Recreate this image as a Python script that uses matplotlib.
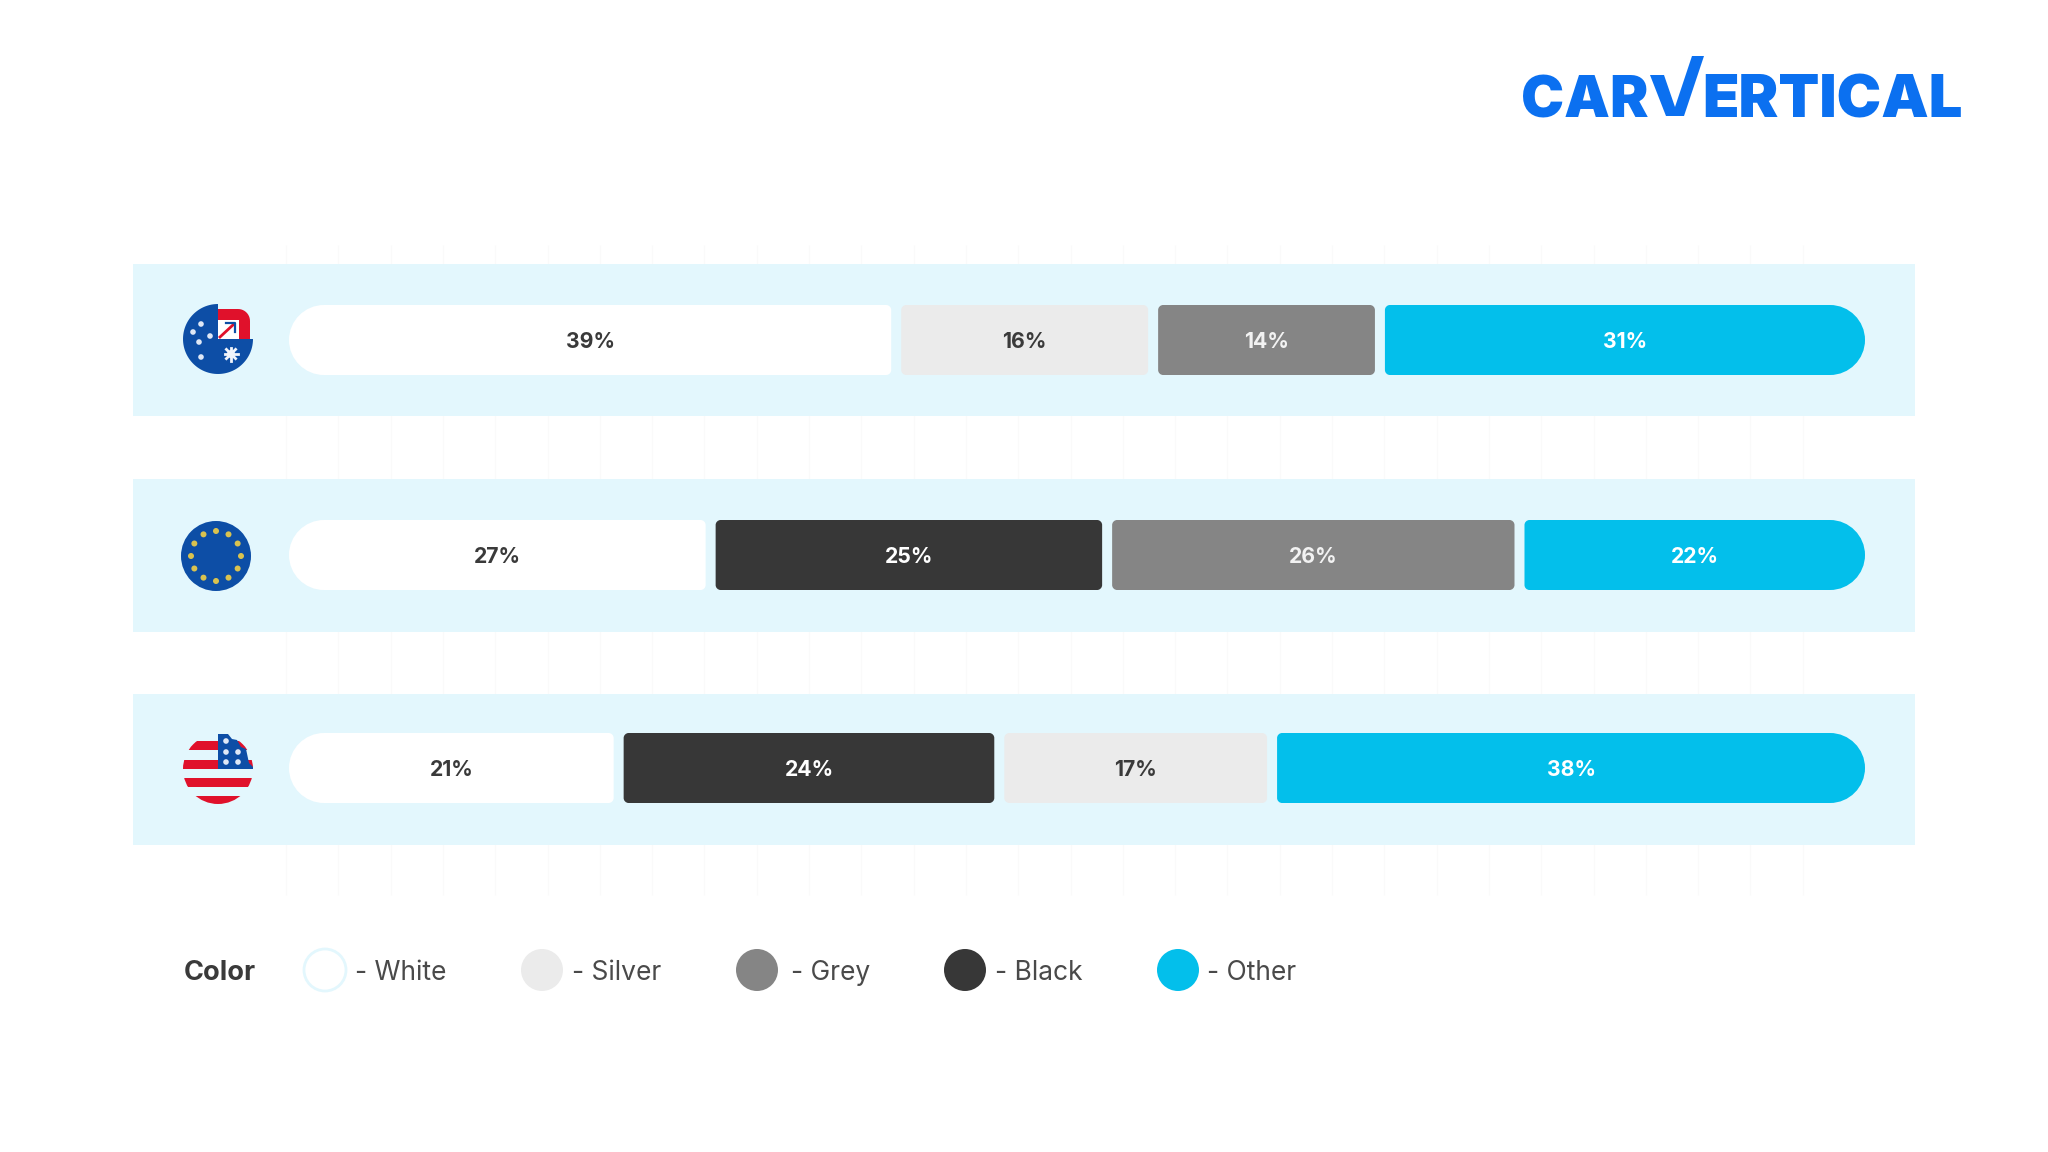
import numpy as np
import matplotlib
matplotlib.use("Agg")
import matplotlib.pyplot as plt
from matplotlib.path import Path
from matplotlib.patches import PathPatch, Circle, Polygon, Rectangle

plt.rcParams['font.family'] = ['Inter', 'DejaVu Sans']

# values, one list per region, in stacking order
# widths are a bit finer than the printed labels, labels are the rounded value
australia_cats = ["White", "Silver", "Grey", "Other"]
australia_vals = [38.6, 16.2, 14.3, 30.9]
europe_cats = ["White", "Black", "Grey", "Other"]
europe_vals = [26.9, 25.0, 26.0, 22.1]
usa_cats = ["White", "Black", "Silver", "Other"]
usa_vals = [21.1, 24.0, 17.2, 37.7]
legend_names = ["White", "Silver", "Grey", "Black", "Other"]

colors = {"White": "#ffffff", "Silver": "#ebebeb", "Grey": "#858585",
          "Black": "#373737", "Other": "#03bfeb"}
text_colors = {"White": "#3a3a3a", "Silver": "#3a3a3a", "Grey": "#f2f2f2",
               "Black": "#ffffff", "Other": "#ffffff"}
PANEL = "#e3f7fd"
LOGO = "#0b70f0"
NAVY = "#0d4ea6"
RED = "#e0112b"

W, H = 2048, 1152
fig = plt.figure(figsize=(W / 100, H / 100), dpi=100, facecolor="white")

# overlay in pixel units for the panels, flags, logo and legend
bg = fig.add_axes([0, 0, 1, 1])
bg.set_xlim(0, W)
bg.set_ylim(H, 0)
bg.axis("off")

# faint grid showing through between the panels
for x in np.arange(286, 1810, 52.3):
    bg.vlines(x, 245, 895, color="#fafafa", lw=1, zorder=0)

for top, bottom in [(264, 416), (479, 632), (694, 845)]:
    bg.add_patch(Rectangle((133, top), 1782, bottom - top, fc=PANEL, ec="none", zorder=1))

# bar axes: x in percent, y in pixels
BAR_L, BAR_R, GAP = 289, 1865, 10
px_per_pct = (BAR_R - BAR_L + GAP) / 100
bars = fig.add_axes([BAR_L / W, 0, (BAR_R + GAP - BAR_L) / W, 1])
bars.set_xlim(0, 100)
bars.set_ylim(H, 0)
bars.axis("off")
bars.patch.set_alpha(0)


def seg_path(x0, x1, y0, y1, rl, rr):
    # rounded box, radius in pixels, different on each side
    lx, rx = rl / px_per_pct, rr / px_per_pct
    k = 0.45
    verts = [(x0 + lx, y0), (x1 - rx, y0),
             (x1 - rx * k, y0), (x1, y0 + rr * k), (x1, y0 + rr),
             (x1, y1 - rr),
             (x1, y1 - rr * k), (x1 - rx * k, y1), (x1 - rx, y1),
             (x0 + lx, y1),
             (x0 + lx * k, y1), (x0, y1 - rl * k), (x0, y1 - rl),
             (x0, y0 + rl),
             (x0, y0 + rl * k), (x0 + lx * k, y0), (x0 + lx, y0),
             (x0 + lx, y0)]
    codes = [Path.MOVETO, Path.LINETO] + [Path.CURVE4] * 3 + [Path.LINETO] + [Path.CURVE4] * 3 + \
            [Path.LINETO] + [Path.CURVE4] * 3 + [Path.LINETO] + [Path.CURVE4] * 3 + [Path.CLOSEPOLY]
    return Path(verts, codes)


def draw_row(cats, vals, yc):
    left = 0
    y0, y1 = yc - 35, yc + 35
    gap = GAP / px_per_pct
    for i, (cat, val) in enumerate(zip(cats, vals)):
        rl = 35 if i == 0 else 5
        rr = 35 if i == len(vals) - 1 else 5
        x1 = left + val - gap
        bars.add_patch(PathPatch(seg_path(left, x1, y0, y1, rl, rr), fc=colors[cat], ec="none", zorder=3))
        bars.text((left + x1) / 2, yc, f"{val:.0f}%", ha="center", va="center_baseline", fontsize=15.3,
                  fontweight="bold", color=text_colors[cat], zorder=4)
        left += val


draw_row(australia_cats, australia_vals, 340)
draw_row(europe_cats, europe_vals, 555)
draw_row(usa_cats, usa_vals, 768)


def flag_au(cx, cy):
    theta = np.radians(np.linspace(90, 360, 80))
    pts = [(cx, cy)] + [(cx + 35 * np.cos(t), cy - 35 * np.sin(t)) for t in theta]
    bg.add_patch(Polygon(pts, fc=NAVY, ec="none", zorder=5))
    # red corner with the white square inside it
    arc = np.radians(np.linspace(90, 0, 12))
    corner = [(cx, cy - 30)] + [(cx + 20 + 12 * np.cos(t), cy - 18 - 12 * np.sin(t)) for t in arc] + \
             [(cx + 32, cy), (cx, cy)]
    bg.add_patch(Polygon(corner, fc=RED, ec="none", zorder=5))
    bg.add_patch(Rectangle((cx, cy - 19), 21, 19, fc="white", ec="none", zorder=6))
    bg.plot([cx + 2, cx + 16], [cy - 2, cy - 15], color=RED, lw=2, zorder=7)
    bg.plot([cx + 8, cx + 17, cx + 17], [cy - 16, cy - 16, cy - 7], color=NAVY, lw=1.6, zorder=7)
    for dx, dy in [(-17, -15), (-25, -7), (-8, -3), (-19, 3), (-17, 18)]:
        bg.add_patch(Circle((cx + dx, cy + dy), 2.8, fc="#dfe8f6", ec="none", zorder=6))
    for a in np.arange(0, 180, 45):
        ca, sa = np.cos(np.radians(a)) * 6.5, np.sin(np.radians(a)) * 6.5
        bg.plot([cx + 13 - ca, cx + 13 + ca], [cy + 15 - sa, cy + 15 + sa], color="#f2f5fb", lw=2, zorder=6)
    bg.add_patch(Circle((cx + 13, cy + 15), 4, fc="#f2f5fb", ec="none", zorder=6))


def flag_eu(cx, cy):
    bg.add_patch(Circle((cx, cy), 35, fc=NAVY, ec="none", zorder=5))
    for a in np.arange(0, 360, 30):
        bg.add_patch(Circle((cx + 25 * np.cos(np.radians(a)), cy + 25 * np.sin(np.radians(a))), 3,
                            fc="#d9c24f", ec="none", zorder=6))


def flag_us(cx, cy):
    disc = Circle((cx, cy), 35, transform=bg.transData)
    for top, bottom in [(-28, -19), (-9, 0), (9, 18), (27, 36)]:
        r = Rectangle((cx - 36, cy + top), 72, bottom - top, fc=RED, ec="none", zorder=5)
        bg.add_patch(r)
        r.set_clip_path(disc)
    canton = [(cx, cy - 35), (cx + 10, cy - 35), (cx + 14, cy - 30), (cx + 19, cy - 29), (cx + 23, cy - 22),
              (cx + 28, cy - 20), (cx + 31, cy - 6), (cx + 35, cy - 2), (cx + 35, cy), (cx, cy)]
    bg.add_patch(Polygon(canton, fc=NAVY, ec="none", zorder=6))
    for dx, dy in [(8, -28), (8, -17), (20, -17), (8, -7), (20, -7)]:
        bg.add_patch(Circle((cx + dx, cy + dy), 2.8, fc="#dfe8f6", ec="none", zorder=7))


flag_au(218, 339)
flag_eu(216, 556)
flag_us(218, 769)

# logo
bg.text(1521, 117, "CAR", fontsize=41.5, fontweight="black", color=LOGO, ha="left", va="baseline", zorder=5)
bg.add_patch(Polygon([(1650, 75), (1664, 75), (1675, 107), (1692, 56), (1704, 56), (1684, 116), (1666, 116)],
                     fc=LOGO, ec="none", zorder=5))
bg.text(1702, 117, "ERTICAL", fontsize=43, fontweight="black", color=LOGO, ha="left", va="baseline", zorder=5)

# legend
LEG_Y = 970
bg.text(184, LEG_Y, "Color", fontsize=19.5, fontweight="bold", color="#3a3a3a", ha="left", va="center_baseline")
for name, cx, tx in zip(legend_names, [325, 542, 757, 965, 1178], [355, 572, 791, 995, 1207]):
    ec = "#e3f7fd" if name == "White" else "none"
    bg.add_patch(Circle((cx, LEG_Y), 21, fc=colors[name], ec=ec, lw=2, zorder=3))
    bg.text(tx, LEG_Y, f"- {name}", fontsize=19, color="#4a4a4a", ha="left", va="center_baseline")

fig.savefig("out.png", dpi=100)
